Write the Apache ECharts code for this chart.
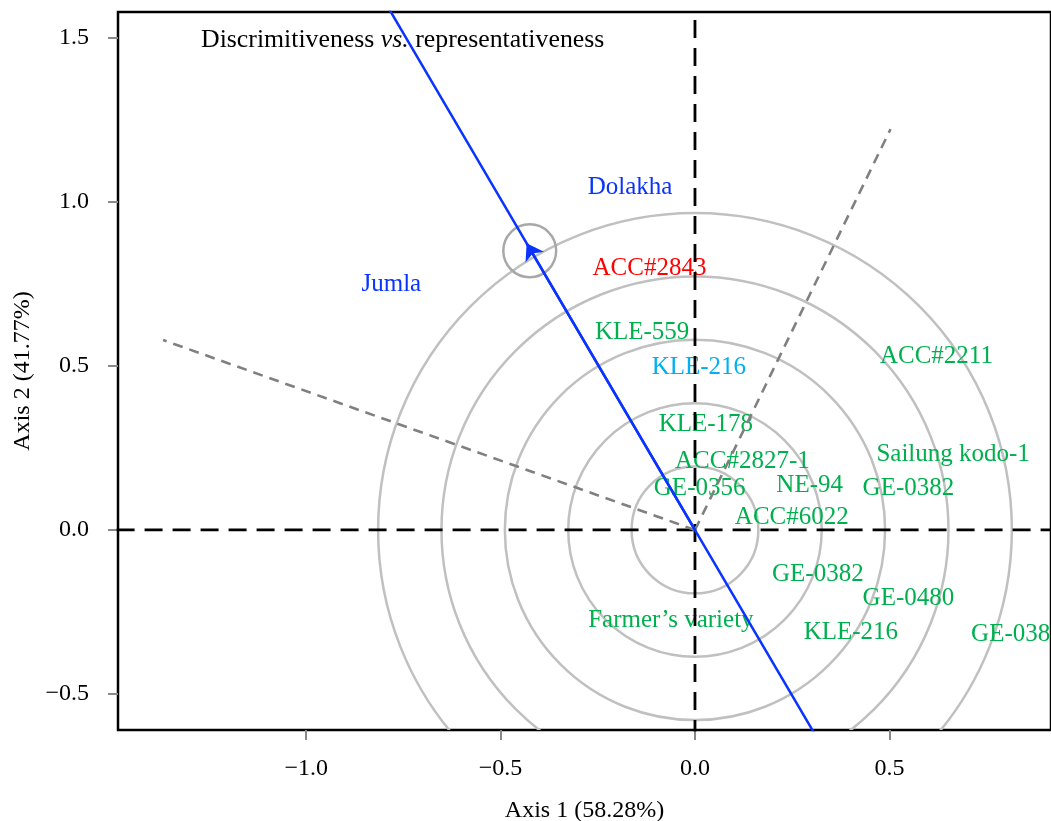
<!DOCTYPE html>
<html><head><meta charset="utf-8">
<script src="https://cdn.jsdelivr.net/npm/echarts@6/dist/echarts.min.js"></script>
<style>html,body{margin:0;padding:0;background:#fff}#c{width:1051px;height:821px}</style>
</head><body><div id="c"></div>
<script>
// ---- data ----
const xTicks = [-1.0, -0.5, 0.0, 0.5];
const yTicks = [-0.5, 0.0, 0.5, 1.0, 1.5];
const labelNames = ['Dolakha','Jumla','ACC#2843','KLE-559','KLE-216','ACC#2211','KLE-178','Sailung kodo-1','ACC#2827-1','GE-0356','NE-94','GE-0382','ACC#6022','GE-0382','GE-0480','Farmer\u2019s variety','KLE-216','GE-0382'];
const labelX = [-0.167,-0.781,-0.117,-0.136,0.010,0.621,0.028,0.664,0.122,0.012,0.295,0.549,0.249,0.316,0.549,-0.062,0.401,0.828];
const labelY = [1.043,0.747,0.796,0.601,0.494,0.530,0.323,0.229,0.209,0.128,0.137,0.128,0.037,-0.137,-0.210,-0.277,-0.311,-0.320];
const labelGroup = ['env','env','ideal','gen','check','gen','gen','gen','gen','gen','gen','gen','gen','gen','gen','gen','gen','gen'];
const circleRadii = [0.163, 0.326, 0.489, 0.652, 0.815];
const focusCircle = [[-0.425, 0.851, 0.068]];
const aecLine = [[-0.80, 1.615], [0.31, -0.626]];
const aecArrow = [[0, 0], [-0.433, 0.874]];
const perpLineA = [[0, 0], [-1.368, 0.579]];
const perpLineB = [[0, 0], [0.503, 1.222]];
const zeroV = [[0, -2], [0, 3]];
const zeroH = [[-3, 0], [3, 0]];

// ---- style ----
const FONT = "'Liberation Serif', serif";
const groupColor = {env: '#0a33ff', ideal: '#ff0000', gen: '#00b04f', check: '#00b0f0'};
const BLUE = '#0a33ff';
const fmt = v => (Math.round(v * 10) / 10).toFixed(1).replace('-', '\u2212');

const chart = echarts.init(document.getElementById('c'), null, {renderer: 'canvas'});
const option = {
  animation: false,
  backgroundColor: '#fff',
  title: {
    left: 201, top: 27, padding: 0,
    text: '{n|Discrimitiveness }{i|vs.}{n| representativeness}',
    textStyle: {fontWeight: 'normal', rich: {
      n: {fontSize: 25.8, fontFamily: FONT, fontWeight: 'normal', color: '#000'},
      i: {fontSize: 25.8, fontFamily: FONT, fontWeight: 'normal', fontStyle: 'italic', color: '#000'}
    }}
  },
  grid: {left: 118, right: 0, top: 12, bottom: 91, outerBoundsMode: 'none', containLabel: false,
         show: true, borderColor: '#000', borderWidth: 2.5, backgroundColor: 'transparent'},
  xAxis: {
    type: 'value', min: -1.484, max: 0.9157,
    splitLine: {show: false}, axisLine: {show: false, onZero: false},
    axisTick: {show: true, customValues: xTicks, length: 10, lineStyle: {color: '#888', width: 2}},
    axisLabel: {customValues: xTicks, formatter: fmt, margin: 27, fontSize: 24, fontFamily: FONT, color: '#000'},
    name: 'Axis 1 (58.28%)', nameLocation: 'middle', nameGap: 69,
    nameTextStyle: {fontSize: 24, fontFamily: FONT, color: '#000'}
  },
  yAxis: {
    type: 'value', min: -0.6098, max: 1.579,
    splitLine: {show: false}, axisLine: {show: false, onZero: false},
    axisTick: {show: true, customValues: yTicks, length: 10, lineStyle: {color: '#888', width: 2}},
    axisLabel: {customValues: yTicks, formatter: fmt, margin: 29, fontSize: 24, fontFamily: FONT, color: '#000'},
    name: 'Axis 2 (41.77%)', nameLocation: 'middle', nameGap: 75,
    nameTextStyle: {fontSize: 24, fontFamily: FONT, color: '#000'}
  },
  series: [
    {
      type: 'custom', clip: true, silent: true, z: 1,
      data: circleRadii.map(r => [0, 0, r]),
      encode: {x: 0, y: 1},
      renderItem: (p, api) => {
        const c = api.coord([api.value(0), api.value(1)]);
        const r = api.size([api.value(2), 0])[0];
        return {type: 'circle', shape: {cx: c[0], cy: c[1], r: r}, style: {fill: 'none', stroke: '#c0c0c0', lineWidth: 2.5}};
      }
    },
    {
      type: 'custom', clip: true, silent: true, z: 1,
      data: focusCircle,
      encode: {x: 0, y: 1},
      renderItem: (p, api) => {
        const c = api.coord([api.value(0), api.value(1)]);
        const r = api.size([api.value(2), 0])[0];
        return {type: 'circle', shape: {cx: c[0], cy: c[1], r: r}, style: {fill: 'none', stroke: '#a8a8a8', lineWidth: 2.5}};
      }
    },
    {
      type: 'custom', clip: false, silent: true, z: 2,
      data: labelNames.map((n, i) => [labelX[i], labelY[i], i]),
      encode: {x: 0, y: 1},
      renderItem: (p, api) => {
        const i = api.value(2);
        const c = api.coord([api.value(0), api.value(1)]);
        return {type: 'text', x: c[0], y: c[1], style: {
          text: labelNames[i], fill: groupColor[labelGroup[i]], font: "25px 'Liberation Serif', serif",
          align: 'center', verticalAlign: 'middle'}};
      }
    },
    {type: 'line', data: zeroV, symbol: 'none', z: 3, silent: true, lineStyle: {color: '#000', width: 2.8, type: [18, 10]}},
    {type: 'line', data: zeroH, symbol: 'none', z: 3, silent: true, lineStyle: {color: '#000', width: 2.8, type: [18, 10]}},
    {type: 'line', data: perpLineA, symbol: 'none', z: 3, silent: true, lineStyle: {color: '#808080', width: 2.6, type: [10, 7]}},
    {type: 'line', data: perpLineB, symbol: 'none', z: 3, silent: true, lineStyle: {color: '#808080', width: 2.6, type: [10, 7]}},
    {type: 'line', data: aecLine, symbol: 'none', z: 4, silent: true, lineStyle: {color: BLUE, width: 2.5}},
    {
      type: 'lines', coordinateSystem: 'cartesian2d', z: 4, silent: true,
      symbol: ['none', 'arrow'], symbolSize: 16,
      lineStyle: {color: BLUE, width: 2.5, opacity: 1},
      data: [{coords: aecArrow}]
    }
  ]
};
chart.setOption(option);
</script></body></html>
